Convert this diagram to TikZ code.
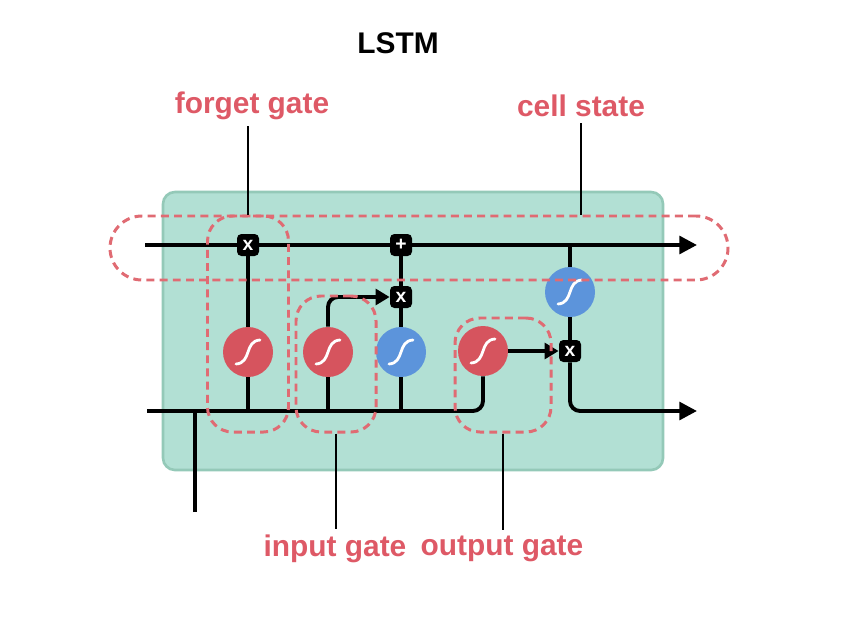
\documentclass[tikz,border=0pt]{standalone}
\usepackage{fontspec}
\setmainfont{Liberation Sans}
\usepackage{xcolor}
\usepackage{tikz}
\usetikzlibrary {arrows.meta}
\definecolor{cellgreen}{rgb}{0.70, 0.88, 0.83}
\definecolor{edgegreen}{rgb}{0.58, 0.79, 0.72}
\definecolor{gatered}{rgb}{0.84, 0.33, 0.37}
\definecolor{tanhblue}{rgb}{0.36, 0.58, 0.86}
\definecolor{dashred}{rgb}{0.88, 0.42, 0.45}
\definecolor{labelred}{rgb}{0.87, 0.35, 0.40}
\newcommand{\scurve}[1]{\draw[white, line width=1.6pt, line cap=round] ([shift={(-12,12)}]#1.center) .. controls +(16,-1) and +(-16,1) .. ([shift={(12,-12)}]#1.center);}

\begin{document}
\begin{tikzpicture}[x=0.2mm, y=-0.2mm,
  flow/.style = {line width=2.2pt},
  tip/.style = {-{Triangle[length=10pt, width=10pt]}},
  smalltip/.style = {-{Triangle[length=8pt, width=9pt]}},
  sig/.style = {circle, fill=gatered, minimum size=10mm, inner sep=0pt},
  tanh/.style = {circle, fill=tanhblue, minimum size=10mm, inner sep=0pt},
  opbox/.style = {fill=black, rounded corners=2.5pt, minimum size=4.4mm, inner sep=0pt, text=white, font=\fontsize{11}{11}\selectfont\bfseries},
  gatebox/.style = {draw=dashred, line width=1.7pt, dash pattern=on 4.5pt off 3pt, rounded corners=5mm, inner sep=0pt},
  lbl/.style = {text=labelred, font=\fontsize{17}{20}\selectfont\bfseries},
  leader/.style = {line width=0.8pt}]

\useasboundingbox (0,0) rectangle (860,630);

\node (title) at (398,43) [font=\fontsize{17}{20}\selectfont\bfseries]{LSTM};
\node (cell) at (413,331) [fill=cellgreen, draw=edgegreen, line width=1.5pt, rounded corners=2.4mm, minimum width=100mm, minimum height=55.6mm]{};

\coordinate (cin) at (145,245);
\coordinate (cout) at (697,245);
\coordinate (hin) at (147,411);
\coordinate (hout) at (697,411);
\coordinate (xin) at (195,512);

\node (fsig) at (248,352) [sig]{};
\node (isig) at (328,352) [sig]{};
\node (tsig) at (401,352) [tanh]{};
\node (osig) at (483,351) [sig]{};
\node (ctanh) at (570,292) [tanh]{};

\node (fx) at (248,245) [opbox]{x};
\node (ax) at (401,245) [opbox]{+};
\node (ix) at (401,297) [opbox]{x};
\node (ox) at (570,351) [opbox]{x};

\draw[flow, tip] (cin) -- (fx) -- (ax) -- (cout);
\draw[flow, rounded corners=2mm] (hin) -- (osig |- hin) -- (osig);
\draw[flow] (xin) -- (xin |- hin);
\draw[flow] (fsig |- hin) -- (fsig) -- (fx);
\draw[flow] (isig |- hin) -- (isig);
\draw[flow, smalltip, rounded corners=2mm] (isig) -- (isig |- ix) -- (ix);
\draw[flow] (tsig |- hin) -- (tsig) -- (ix) -- (ax);
\draw[flow, smalltip] (osig) -- (ox);
\draw[flow] (ctanh |- cin) -- (ctanh) -- (ox);
\draw[flow, tip, rounded corners=2mm] (ox) -- (ox |- hout) -- (hout);

\scurve{fsig}
\scurve{isig}
\scurve{tsig}
\scurve{osig}
\scurve{ctanh}

\node (cstate) at (419,248) [gatebox, rounded corners=6.4mm, minimum width=123.6mm, minimum height=12.8mm]{};
\node (fgate) at (248,324) [gatebox, minimum width=16.2mm, minimum height=43.2mm]{};
\node (igate) at (336,364) [gatebox, minimum width=16mm, minimum height=27.2mm]{};
\node (ogate) at (503,375) [gatebox, minimum width=19.2mm, minimum height=22.8mm]{};

\node (fglabel) at (252,106) [lbl]{forget gate};
\node (cslabel) at (581,106) [lbl]{cell state};
\node (iglabel) at (335,549) [lbl]{input gate};
\node (oglabel) at (502,549) [lbl]{output gate};

\draw[leader] (fglabel.south -| fgate.north) -- (fgate.north);
\draw[leader] (cslabel.south) -- (cslabel.south |- cstate.north);
\draw[leader] (igate.south) -- (igate.south |- iglabel.north);
\draw[leader] (ogate.south) -- (ogate.south |- oglabel.north);

\end{tikzpicture}
\end{document}
